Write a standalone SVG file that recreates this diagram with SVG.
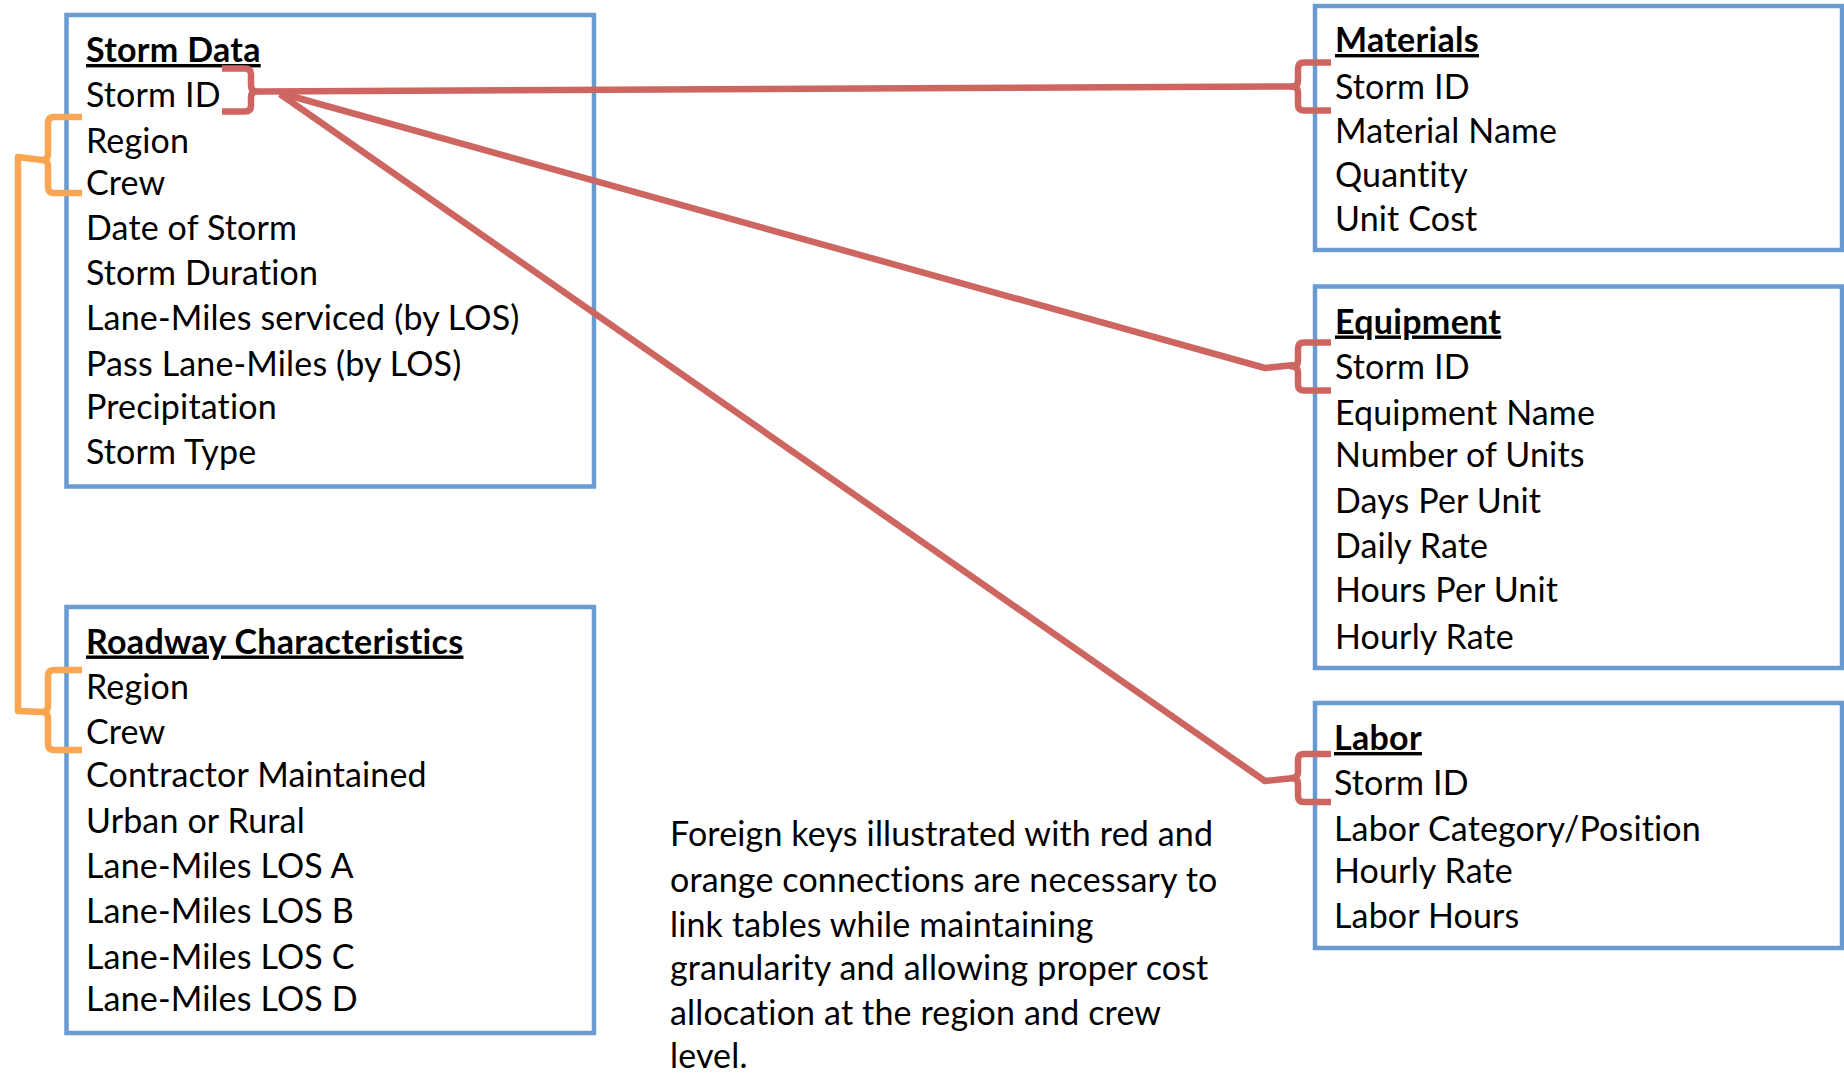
<svg xmlns="http://www.w3.org/2000/svg" width="1844" height="1076" viewBox="0 0 1844 1076">
<style>
.box{fill:#ffffff;stroke:#6A9BD0;stroke-width:4.5}
.t{font-family:Lato,"Open Sans","Liberation Sans",sans-serif;font-size:34px;letter-spacing:0.15px;fill:#000000}
.h{font-weight:bold;text-decoration:underline;letter-spacing:0.3px}
.red{fill:none;stroke:#CD6561;stroke-width:6.5;stroke-linejoin:round;stroke-linecap:butt}
.org{fill:none;stroke:#F9A552;stroke-width:6.5;stroke-linejoin:round;stroke-linecap:butt}
</style>
<defs>
<path id="lbr" d="M37,-24 H10 Q4,-24 4,-18 V-6 Q4,0 -2,0 Q4,0 4,6 V18 Q4,24 10,24 H37"/>
</defs>
<rect width="1844" height="1076" fill="#ffffff"/>

<g id="storm-data">
<rect class="box" x="66.5" y="15" width="527.5" height="471.5"/>
<text class="t h" x="86" y="62">Storm Data</text>
<text class="t" x="86" y="107">Storm ID</text>
<text class="t" x="86" y="152.5">Region</text>
<text class="t" x="86" y="194.5">Crew</text>
<text class="t" x="86" y="240">Date of Storm</text>
<text class="t" x="86" y="285">Storm Duration</text>
<text class="t" x="86" y="330">Lane-Miles serviced (by LOS)</text>
<text class="t" x="86" y="376">Pass Lane-Miles (by LOS)</text>
<text class="t" x="86" y="418.5">Precipitation</text>
<text class="t" x="86" y="464">Storm Type</text>
</g>

<g id="roadway-characteristics">
<rect class="box" x="66.5" y="607" width="527.5" height="426"/>
<text class="t h" x="86" y="653.5">Roadway Characteristics</text>
<text class="t" x="86" y="698.5">Region</text>
<text class="t" x="86" y="744">Crew</text>
<text class="t" x="86" y="787">Contractor Maintained</text>
<text class="t" x="86" y="833">Urban or Rural</text>
<text class="t" x="86" y="877.5">Lane-Miles LOS A</text>
<text class="t" x="86" y="922.5">Lane-Miles LOS B</text>
<text class="t" x="86" y="968.5">Lane-Miles LOS C</text>
<text class="t" x="86" y="1010.5">Lane-Miles LOS D</text>
</g>

<g id="materials">
<rect class="box" x="1315" y="6" width="527" height="244"/>
<text class="t h" x="1335" y="52">Materials</text>
<text class="t" x="1335" y="98.5">Storm ID</text>
<text class="t" x="1335" y="142.5">Material Name</text>
<text class="t" x="1335" y="186.5">Quantity</text>
<text class="t" x="1335" y="230.5">Unit Cost</text>
</g>

<g id="equipment">
<rect class="box" x="1315" y="286.5" width="527" height="381.5"/>
<text class="t h" x="1335" y="333.5">Equipment</text>
<text class="t" x="1335" y="378.5">Storm ID</text>
<text class="t" x="1335" y="424.5">Equipment Name</text>
<text class="t" x="1335" y="467">Number of Units</text>
<text class="t" x="1335" y="513">Days Per Unit</text>
<text class="t" x="1335" y="558">Daily Rate</text>
<text class="t" x="1335" y="602">Hours Per Unit</text>
<text class="t" x="1335" y="648.5">Hourly Rate</text>
</g>

<g id="labor">
<rect class="box" x="1315" y="703" width="527" height="245"/>
<text class="t h" x="1334" y="750">Labor</text>
<text class="t" x="1334" y="795">Storm ID</text>
<text class="t" x="1334" y="840.5">Labor Category/Position</text>
<text class="t" x="1334" y="883">Hourly Rate</text>
<text class="t" x="1334" y="927.5">Labor Hours</text>
</g>

<g id="note">
<text class="t" x="670" y="845.5">Foreign keys illustrated with red and</text>
<text class="t" x="670" y="891.5">orange connections are necessary to</text>
<text class="t" x="670" y="937">link tables while maintaining</text>
<text class="t" x="670" y="980">granularity and allowing proper cost</text>
<text class="t" x="670" y="1025">allocation at the region and crew</text>
<text class="t" x="670" y="1068">level.</text>
</g>

<g id="connectors">
<path class="red" d="M222,68.5 H245 Q251,68.5 251,74.5 V85.5 Q251,91.5 257,91.5 Q251,91.5 251,97.5 V105.5 Q251,111.5 245,111.5 H222"/>
<path class="red" d="M257,91.5 L1294,86.5"/>
<path class="red" d="M280,93 L1265,368 L1294,365"/>
<path class="red" d="M280,94 L1265,781 L1294,778"/>
<use class="red" href="#lbr" transform="translate(1294,86.5)"/>
<use class="red" href="#lbr" transform="translate(1294,366.5)"/>
<use class="red" href="#lbr" transform="translate(1294,778)"/>
<path class="org" d="M82,117 H54 Q48,117 48,123 V154 Q48,160 42,160 Q48,160 48,166 V187 Q48,193 54,193 H82"/>
<path class="org" d="M42,160 L18,157 L18,711 L42,712"/>
<path class="org" d="M82,670 H54 Q48,670 48,676 V706 Q48,712 42,712 Q48,712 48,718 V744 Q48,750 54,750 H82"/>
</g>
</svg>
